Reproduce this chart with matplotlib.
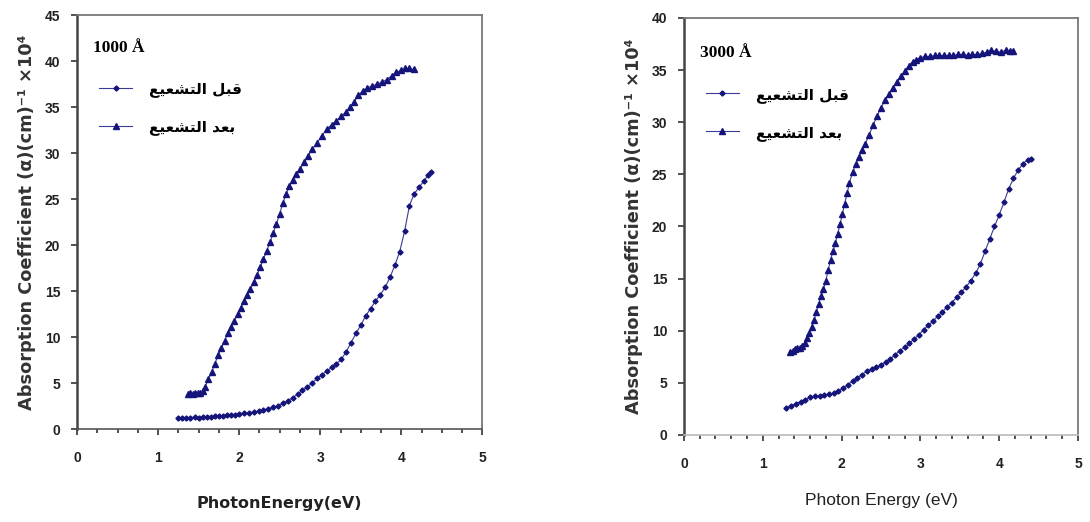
import matplotlib
matplotlib.use("Agg")
import matplotlib.pyplot as plt
from matplotlib.ticker import MultipleLocator

# --- datos ---
# panel izquierdo (1000 A)
x_antes_1000 = [1.25, 1.30, 1.35, 1.40, 1.45, 1.50, 1.55, 1.60, 1.65, 1.70, 1.75, 1.80,
                1.85, 1.90, 1.95, 2.00, 2.06, 2.12, 2.18, 2.24, 2.30, 2.36, 2.42, 2.48,
                2.54, 2.60, 2.66, 2.72, 2.78, 2.84, 2.90, 2.96, 3.02, 3.08, 3.14, 3.20,
                3.26, 3.32, 3.38, 3.44, 3.50, 3.56, 3.62, 3.68, 3.74, 3.80, 3.86, 3.92,
                3.98, 4.04, 4.10, 4.16, 4.22, 4.28, 4.33, 4.37]
y_antes_1000 = [1.2, 1.2, 1.25, 1.2, 1.3, 1.25, 1.3, 1.35, 1.3, 1.4, 1.4, 1.45,
                1.5, 1.5, 1.55, 1.6, 1.7, 1.75, 1.85, 1.95, 2.05, 2.2, 2.35, 2.5,
                2.8, 3.1, 3.4, 3.8, 4.2, 4.6, 5.0, 5.5, 5.9, 6.3, 6.7, 7.1,
                7.6, 8.4, 9.4, 10.4, 11.3, 12.3, 13.1, 13.9, 14.6, 15.4, 16.5, 17.8,
                19.3, 21.5, 24.3, 25.6, 26.3, 27.0, 27.6, 28.0]

x_despues_1000 = [1.37, 1.40, 1.43, 1.46, 1.49, 1.52, 1.55, 1.58, 1.62, 1.66, 1.70, 1.74,
                  1.78, 1.82, 1.86, 1.90, 1.94, 1.98, 2.02, 2.06, 2.10, 2.14, 2.18, 2.22,
                  2.26, 2.30, 2.34, 2.38, 2.42, 2.46, 2.50, 2.54, 2.58, 2.62, 2.66, 2.70,
                  2.75, 2.80, 2.85, 2.90, 2.96, 3.02, 3.08, 3.14, 3.20, 3.26, 3.32, 3.37,
                  3.42, 3.47, 3.53, 3.58, 3.64, 3.70, 3.76, 3.82, 3.88, 3.94, 4.00, 4.05,
                  4.10, 4.15]
y_despues_1000 = [3.8, 3.9, 3.8, 3.9, 3.9, 3.9, 4.1, 4.6, 5.4, 6.2, 7.1, 8.0,
                  8.8, 9.6, 10.4, 11.1, 11.8, 12.5, 13.2, 13.9, 14.6, 15.2, 16.0, 16.8,
                  17.6, 18.5, 19.4, 20.3, 21.3, 22.3, 23.4, 24.6, 25.6, 26.4, 27.1, 27.7,
                  28.3, 29.0, 29.7, 30.4, 31.1, 31.9, 32.6, 33.1, 33.5, 34.0, 34.5, 35.0,
                  35.6, 36.3, 36.8, 37.1, 37.3, 37.5, 37.7, 38.0, 38.4, 38.8, 39.0, 39.2,
                  39.2, 39.1]

# panel derecho (3000 A)
x_antes_3000 = [1.30, 1.36, 1.42, 1.48, 1.54, 1.60, 1.66, 1.72, 1.78, 1.84, 1.90, 1.96,
                2.02, 2.08, 2.14, 2.20, 2.26, 2.32, 2.38, 2.44, 2.50, 2.56, 2.62, 2.68,
                2.74, 2.80, 2.86, 2.92, 2.98, 3.04, 3.10, 3.16, 3.22, 3.28, 3.34, 3.40,
                3.46, 3.52, 3.58, 3.64, 3.70, 3.76, 3.82, 3.88, 3.94, 4.00, 4.06, 4.12,
                4.18, 4.24, 4.30, 4.36, 4.40]
y_antes_3000 = [2.6, 2.8, 3.0, 3.2, 3.4, 3.6, 3.7, 3.7, 3.8, 3.9, 4.0, 4.2,
                4.5, 4.8, 5.2, 5.5, 5.8, 6.1, 6.3, 6.5, 6.7, 7.0, 7.3, 7.7,
                8.1, 8.4, 8.8, 9.2, 9.6, 10.1, 10.5, 10.9, 11.4, 11.8, 12.3, 12.7,
                13.2, 13.7, 14.2, 14.8, 15.5, 16.4, 17.6, 18.8, 20.0, 21.1, 22.3, 23.6,
                24.6, 25.4, 26.0, 26.4, 26.5]

x_despues_3000 = [1.35, 1.38, 1.41, 1.44, 1.47, 1.50, 1.53, 1.56, 1.59, 1.62, 1.65, 1.68,
                  1.71, 1.74, 1.77, 1.80, 1.83, 1.86, 1.89, 1.92, 1.95, 1.98, 2.01, 2.04,
                  2.07, 2.10, 2.14, 2.18, 2.22, 2.26, 2.30, 2.35, 2.40, 2.45, 2.50, 2.55,
                  2.60, 2.65, 2.70, 2.75, 2.80, 2.85, 2.90, 2.95, 3.00, 3.06, 3.12, 3.18,
                  3.24, 3.30, 3.36, 3.42, 3.48, 3.54, 3.60, 3.66, 3.72, 3.78, 3.84, 3.90,
                  3.96, 4.02, 4.08, 4.14, 4.18]
y_despues_3000 = [8.0, 8.1, 8.2, 8.3, 8.3, 8.5, 8.8, 9.3, 9.8, 10.4, 11.0, 11.8,
                  12.6, 13.3, 14.0, 14.8, 15.8, 16.8, 17.6, 18.4, 19.3, 20.2, 21.2, 22.2,
                  23.2, 24.2, 25.2, 26.0, 26.7, 27.3, 27.9, 28.8, 29.7, 30.6, 31.4, 32.1,
                  32.7, 33.3, 33.9, 34.4, 34.9, 35.4, 35.8, 36.0, 36.2, 36.3, 36.3, 36.4,
                  36.4, 36.4, 36.4, 36.4, 36.5, 36.5, 36.4, 36.5, 36.5, 36.6, 36.7, 36.9,
                  36.8, 36.7, 36.9, 36.8, 36.8]

# etiquetas (arabe ya en formas de presentacion, orden visual)
LBL_ANTES = "\uFECA\uFEF4\uFECC\uFEB8\uFE98\uFEDF\uFE8D \uFEDE\uFE92\uFED7"   # قبل التشعيع
LBL_DESPUES = "\uFECA\uFEF4\uFECC\uFEB8\uFE98\uFEDF\uFE8D \uFEAA\uFECC\uFE91"  # بعد التشعيع
YLABEL = "Absorption Coefficient (\u03b1)(cm)\u207b\u00b9 \u00d710\u2074"

AZUL = "#14147a"
LINEA = "#3a3a9a"

plt.rcParams.update({
    "font.family": ["Liberation Sans", "DejaVu Sans"],
    "font.size": 10,
})


def panel(ax, xa, ya, xd, yd, ymax, minor_x, titulo, xlabel, xlfont, xlpad,
          leg_anchor, ttl_pos):
    ax.plot(xa, ya, color=LINEA, lw=0.8, marker="D", ms=2.6, mfc=AZUL, mec=AZUL,
            label=LBL_ANTES)
    ax.plot(xd, yd, color=LINEA, lw=0.8, marker="^", ms=4, mfc=AZUL, mec=AZUL,
            label=LBL_DESPUES)
    ax.set_xlim(0, 5)
    ax.set_ylim(0, ymax)
    ax.xaxis.set_major_locator(MultipleLocator(1))
    ax.xaxis.set_minor_locator(MultipleLocator(minor_x))
    ax.yaxis.set_major_locator(MultipleLocator(5))
    ax.tick_params(axis="both", which="major", direction="out", length=4, width=1.2,
                   labelsize=10, color="#333333")
    ax.tick_params(axis="x", which="major", pad=12)
    ax.tick_params(axis="y", which="major", pad=8)
    ax.tick_params(axis="x", which="minor", direction="out", length=3, width=1.2,
                   color="#333333")
    for lab in ax.get_xticklabels() + ax.get_yticklabels():
        lab.set_fontweight("bold")
        lab.set_color("#222222")
    for s in ("top", "right"):
        ax.spines[s].set_color("#777777")
        ax.spines[s].set_linewidth(1.3)
    ax.spines["left"].set_color("#444444")
    ax.spines["left"].set_linewidth(1.8)
    ax.spines["bottom"].set_color("#555555")
    ax.spines["bottom"].set_linewidth(1.2)
    ax.set_xlabel(xlabel, labelpad=xlpad, **xlfont)
    ax.set_ylabel(YLABEL, family="DejaVu Sans", fontweight="bold", fontsize=12.8,
                  color="#333333", labelpad=6)
    ax.text(ttl_pos[0], ttl_pos[1], titulo, transform=ax.transAxes,
            family="Liberation Serif", fontweight="bold", fontsize=12.5,
            va="center", ha="left")
    leg = ax.legend(loc="upper left", bbox_to_anchor=leg_anchor, frameon=False,
                    prop={"family": "DejaVu Sans", "weight": "bold", "size": 11},
                    handlelength=2.2, labelspacing=1.45, handletextpad=1.1)
    return leg


def main():
    fig = plt.figure(figsize=(10.9, 5.22), dpi=100)
    ax1 = fig.add_axes([0.0706, 0.178, 0.372, 0.793])
    ax2 = fig.add_axes([0.6275, 0.1667, 0.3615, 0.799])

    panel(ax1, x_antes_1000, y_antes_1000, x_despues_1000, y_despues_1000, 45, 0.25,
          "1000 \u00c5", "PhotonEnergy(eV)",
          {"family": "DejaVu Sans", "fontweight": "bold", "fontsize": 11.5,
           "color": "#222222"}, 22,
          (0.02, 0.873), (0.04, 0.92))
    panel(ax2, x_antes_3000, y_antes_3000, x_despues_3000, y_despues_3000, 40, 0.2,
          "3000 \u00c5", "Photon Energy (eV)",
          {"family": "Liberation Sans", "fontsize": 12.5, "color": "#222222"}, 16,
          (0.02, 0.868), (0.04, 0.915))
    ax2.spines["bottom"].set_color("#bbbbbb")

    fig.savefig("out.png", dpi=100, facecolor="white")
    plt.close(fig)


if __name__ == "__main__":
    main()
